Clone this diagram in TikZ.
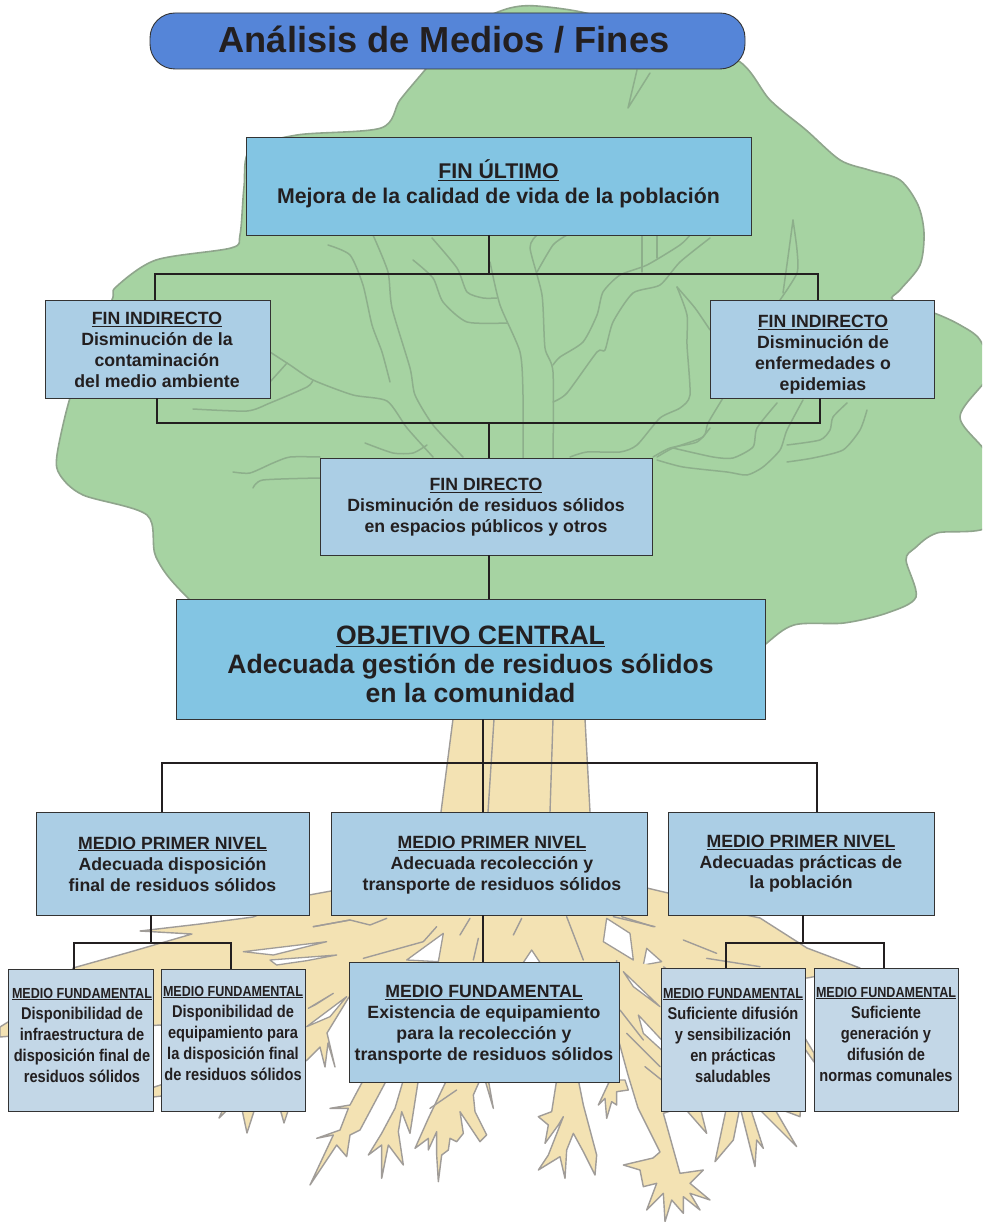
\documentclass[tikz,border=0pt]{standalone}
\usepackage{fontspec}
\setmainfont{Liberation Sans}
\newfontfamily\ccf[FakeStretch=0.86]{Liberation Sans}
\usetikzlibrary{calc}
\definecolor{ink}{HTML}{231F20}
\definecolor{edgec}{HTML}{333333}
\definecolor{titlec}{HTML}{5585D8}
\definecolor{topc}{HTML}{83C5E3}
\definecolor{midc}{HTML}{ABCEE5}
\definecolor{lowc}{HTML}{C3D7E7}
\definecolor{leaf}{HTML}{A6D3A2}
\definecolor{leafl}{HTML}{8FA58C}
\definecolor{vein}{HTML}{8DAF8B}
\definecolor{wood}{HTML}{F3E2B3}
\definecolor{woodl}{HTML}{A09C98}
\tikzset{
 boxbase/.style={rectangle,draw=edgec,line width=0.9pt,inner sep=0pt,outer sep=0pt},
 boxtop/.style={boxbase,fill=topc},
 boxmid/.style={boxbase,fill=midc},
 boxlow/.style={boxbase,fill=lowc},
 txt/.style={inner sep=0pt,outer sep=0pt,align=center,text=ink},
 big/.style={font=\fontsize{17.7}{21}\selectfont\bfseries},
 small/.style={font=\ccf\fontsize{17}{21}\selectfont\bfseries},
 stem/.style={draw=ink,line width=1.9pt},
 bus/.style={draw=ink,line width=2.6pt,line join=miter},
 veinl/.style={draw=vein,line width=1.5pt,line cap=round,line join=round},
 rootp/.style={fill=wood,draw=woodl,line width=1.4pt,line join=round},
 rootv/.style={draw=woodl,line width=1.4pt,line cap=round,line join=round},
 hole/.style={fill=white,draw=woodl,line width=1.3pt,line join=round},
}
\newcommand{\hd}[1]{\underline{#1}}
\newcommand{\hds}[1]{{\fontsize{14.6}{21}\selectfont\underline{#1}}}
\newcommand{\veinp}[1]{\draw[veinl] plot[smooth,tension=0.4] coordinates {#1};}
\begin{document}
\begin{tikzpicture}[x=1pt,y=-1pt]
\useasboundingbox (0,0) rectangle (982,1222);
\fill[white] (0,0) rectangle (982,1222);
\begin{scope}
\clip (0,0) rectangle (982,1222);
% crown
\draw[fill=leaf,draw=leafl,line width=1.6pt] plot[smooth cycle,tension=0.5] coordinates {
(537,6)(590,14)(660,38)(737,60)(770,100)(806,130)(840,160)(869,170)(900,180)(918,205)(924,233)(920,265)(900,290)(893,300)
(934,313)(960,325)(980,340)(990,373)(960,417)(990,460)(990,525)(937,533)(915,548)(906,560)(916,597)(887,613)(844,623)(794,625)(762,647)
(700,700)(300,700)(187,597)(156,557)(147,515)(83,495)(60,475)(57,455)(70,398)(90,350)(112,300)(116,287)(156,260)(231,248)(240,235)(244,187)(250,150)(297,135)(381,128)(400,100)(425,70)(450,40)(480,20)(510,8)};
\draw[veinl] (650,73) -- (628,108) -- (637,70);
\veinp{(328,245)(350,255)(363,285)(372,325)(382,352)(390,382)}
\veinp{(373,235)(388,272)(392,308)(410,368)(415,395)(433,425)(463,457)}
\veinp{(270,352)(290,365)(313,380)(353,395)(387,401)(407,428)(433,457)}
\veinp{(270,382)(287,363)}
\veinp{(193,409)(247,411)(270,403)(307,387)(313,380)}
\veinp{(432,238)(457,268)(467,292)(483,298)(497,298)}
\veinp{(413,260)(433,278)(443,302)(467,322)(507,323)}
\veinp{(490,262)(500,305)(520,352)(523,395)(523,458)}
\veinp{(537,235)(530,248)(542,295)(545,348)(553,372)(553,458)}
\veinp{(537,272)(553,245)(567,235)}
\veinp{(553,365)(560,357)(583,342)(597,315)(603,292)(620,275)(647,265)(680,245)(690,235)}
\veinp{(553,402)(567,393)(597,352)(605,350)(613,322)(633,293)(660,285)(680,262)(710,238)}
\veinp{(642,235)(642,272)}
\veinp{(657,235)(657,258)}
\veinp{(677,287)(687,315)(687,345)(690,395)(680,408)(660,418)(637,445)(620,452)(587,452)(570,457)}
\veinp{(677,287)(695,308)(710,330)}
\veinp{(365,443)(393,453)(413,453)(427,445)}
\veinp{(710,428)(697,442)(670,448)(653,457)}
\veinp{(793,220)(797,250)(797,273)(780,300)}
\veinp{(793,220)(788,257)(783,293)}
\veinp{(723,398)(708,423)(703,437)(673,448)(657,457)}
\veinp{(803,400)(787,430)(780,450)(763,467)(747,475)(727,472)(683,467)(657,460)}
\veinp{(777,403)(757,428)(753,447)(733,458)(713,457)(673,448)}
\veinp{(847,403)(833,417)(830,430)(820,440)(787,445)}
\veinp{(867,410)(860,430)(843,450)(813,458)(787,462)}
\veinp{(233,472)(250,473)(273,463)(290,457)(320,457)}
\veinp{(253,488)(263,480)(320,478)}
% trunk
\draw[fill=wood,draw=none] (453,715) -- (441,815) -- (590,815) -- (585,715) -- cycle;
\draw[rootv] (453,719) -- (441,812);
\draw[rootv] (585,719) -- (590,812);
\draw[rootv] (494,719) -- (488,812);
\draw[rootv] (553,719) -- (550,812);
% central root mass
\draw[rootp] (400,860) -- (331,891) -- (309,895) -- (253,917) -- (200,924) -- (140,931) -- (192,934) -- (130,952) -- (73,968) -- (60,1000) -- (8,1022) -- (0,1027) -- (0,1037) -- (12,1036) -- (160,1025) -- (300,1065) -- (307,1060) -- (320,1047) -- (325,1067) -- (328,1043) -- (335,1067) -- (327,1033) -- (349,997) -- (360,1000) -- (700,1000) -- (720,978) -- (807,978) -- (860,968) -- (807,948) -- (760,918) -- (700,905) -- (668,893) -- (647,888) -- (600,860) -- cycle;
% stripes seen in the box gaps
\draw[rootp] (300,1040) -- (145,1090) -- (145,1098) -- (170,1095) -- (300,1060) -- cycle;
\draw[rootp] (800,1030) -- (814,1053) -- (814,1062) -- (800,1042) -- cycle;
% spikes under box 2
\draw[rootp] (225,1105) -- (219,1118) -- (232,1105);
\draw[rootp] (241,1105) -- (247,1133) -- (256,1105);
\draw[rootp] (279,1105) -- (284,1123) -- (290,1105);
% wedges in upper-left root
\begin{scope}[shift={(0,890)},scale=1/3]
\draw[hole] (810,210) -- (1010,195) -- (920,212) -- (830,225) -- cycle;
\draw[hole] (730,185) -- (980,155) -- (880,180) -- (820,195) -- cycle;
\draw[hole] (925,355) -- (1000,310) -- (945,345) -- cycle;
\draw[hole] (920,410) -- (1040,320) -- (990,380) -- cycle;
\draw[rootv] (940,110) -- (1050,90);
\end{scope}
% veins and holes in central mass
\begin{scope}[shift={(300,890)},scale=1/3]
\draw[hole] (320,210) -- (430,130) -- (415,215) -- cycle;
\draw[hole] (665,225) -- (695,180) -- (725,225) -- cycle;
\draw[hole] (920,85) -- (990,130) -- (1000,210) -- (910,155) -- cycle;
\draw[hole] (1040,175) -- (1085,215) -- (1030,225) -- cycle;
\draw[rootv] (40,110) -- (150,90) -- (210,105) -- (260,85);
\draw[rootv] (190,205) -- (370,155) -- (410,110);
\draw[rootv] (480,135) -- (510,85);
\draw[rootv] (520,210) -- (535,145);
\draw[rootv] (640,135) -- (665,85);
\draw[rootv] (800,80) -- (850,210);
\draw[rootv] (965,80) -- (1060,110);
\end{scope}
% right side
\begin{scope}[shift={(600,900)},scale=1/3]
\draw[rootp] (50,180) -- (50,400) -- (84,525) -- (114,624) -- (159,714) -- (180,756) -- (159,774) -- (70,795) -- (120,810) -- (130,860) -- (170,850) -- (140,930) -- (190,880) -- (195,965) -- (215,900) -- (250,940) -- (250,890) -- (300,930) -- (270,880) -- (330,900) -- (270,850) -- (310,810) -- (240,820) -- (190,640) -- (250,620) -- (320,700) -- (300,620) -- (380,620) -- (345,785) -- (400,720) -- (420,620) -- (465,800) -- (470,720) -- (490,745) -- (450,620) -- (470,620) -- (590,740) -- (520,620) -- (600,650) -- (610,500) -- (190,200);
\draw[hole] (70,215) -- (180,320) -- (100,260) -- cycle;
\draw[hole] (115,345) -- (185,420) -- (185,450) -- (130,400) -- cycle;
\draw[rootv] (60,330) -- (130,420);
\draw[rootv] (80,400) -- (180,500);
\draw[rootv] (135,500) -- (185,540);
\draw[rootv] (250,120) -- (350,160);
\draw[rootv] (320,175) -- (480,200);
\draw[rootv] (40,50) -- (165,80);
\end{scope}
% roots beneath the central box
\begin{scope}[shift={(300,1075)},scale=1/3]
\draw[rootp] (190,15) -- (150,90) -- (90,100) -- (145,100) -- (120,165) -- (50,190) -- (100,180) -- (30,330) -- (110,210) -- (140,245) -- (150,180) -- (180,165) -- (260,15) -- cycle;
\draw[rootp] (310,15) -- (285,100) -- (245,175) -- (205,240) -- (245,210) -- (245,310) -- (265,210) -- (310,270) -- (295,170) -- (305,110) -- (330,175) -- (355,15) -- cycle;
\draw[rootp] (440,15) -- (385,130) -- (345,220) -- (385,190) -- (385,225) -- (410,170) -- (410,240) -- (415,320) -- (425,240) -- (445,225) -- (450,190) -- (470,200) -- (490,175) -- (480,110) -- (540,200) -- (560,180) -- (525,110) -- (520,60) -- (540,15) -- cycle;
\draw[rootv] (390,100) -- (470,45);
\draw[rootp] (555,15) -- (580,100) -- (565,15) -- cycle;
\draw[rootp] (770,15) -- (755,110) -- (715,125) -- (745,150) -- (735,205) -- (775,150) -- (790,125) -- (745,240) -- (715,285) -- (780,245) -- (795,310) -- (800,225) -- (820,175) -- (850,230) -- (885,300) -- (890,240) -- (850,90) -- (835,15) -- cycle;
\draw[rootp] (930,15) -- (895,90) -- (915,70) -- (920,130) -- (935,80) -- (950,90) -- (950,50) -- (985,45) -- (975,15) -- cycle;
\end{scope}
\end{scope}
% title
\node[rectangle,rounded corners=25pt,fill=titlec,draw=edgec,line width=0.9pt,minimum width=595pt,minimum height=56pt,inner sep=0pt,outer sep=0pt] (titlebox) at (447.5,41) {};
\node[txt,font=\fontsize{36.2}{40}\selectfont\bfseries] (titletxt) at (444,40) {Análisis de Medios / Fines};
% boxes
\node[boxtop,minimum width=505pt,minimum height=98pt] (fu) at (498.5,186) {};
\node[boxmid,minimum width=225pt,minimum height=98pt] (fi1) at (157.5,349) {};
\node[boxmid,minimum width=224pt,minimum height=98pt] (fi2) at (822,349) {};
\node[boxmid,minimum width=332pt,minimum height=97pt] (fd) at (486,506.5) {};
\node[boxtop,minimum width=589pt,minimum height=120pt] (oc) at (470.5,659) {};
\node[boxmid,minimum width=273pt,minimum height=103pt] (m1) at (172.5,863.5) {};
\node[boxmid,minimum width=316pt,minimum height=103pt] (m2) at (489,863.5) {};
\node[boxmid,minimum width=266pt,minimum height=103pt] (m3) at (801,863.5) {};
\node[boxlow,minimum width=145pt,minimum height=142pt] (f1) at (80.5,1040) {};
\node[boxlow,minimum width=144pt,minimum height=142pt] (f2) at (233,1040) {};
\node[boxmid,minimum width=270pt,minimum height=120pt] (f3) at (484,1022) {};
\node[boxlow,minimum width=144pt,minimum height=143pt] (f4) at (733,1039.5) {};
\node[boxlow,minimum width=144pt,minimum height=143pt] (f5) at (886,1039.5) {};
% connector junctions
\coordinate (j1) at (489,274);
\coordinate (j1l) at (155,274);
\coordinate (j1r) at (818,274);
\coordinate (j2) at (489,423);
\coordinate (j2l) at (157,423);
\coordinate (j2r) at (820,423);
\coordinate (j3) at (483,763);
\coordinate (j3l) at (162,763);
\coordinate (j3r) at (817,763);
\coordinate (j4) at (151,943);
\coordinate (j4l) at (74,943);
\coordinate (j4r) at (231,943);
\coordinate (j5) at (803,943);
\coordinate (j5l) at (726,943);
\coordinate (j5r) at (884,943);
\coordinate (j6) at (483,915);
\draw[stem] (j1 |- fu.south) -- (j1);
\draw[bus] (j1l |- fi1.north) -- (j1l) -- (j1r) -- (j1r |- fi2.north);
\draw[bus] (j2l |- fi1.south) -- (j2l) -- (j2r) -- (j2r |- fi2.south);
\draw[stem] (j2) -- (j2 |- fd.north);
\draw[stem] (j2 |- fd.south) -- (j2 |- oc.north);
\draw[stem] (j3 |- oc.south) -- (j3 |- m2.north);
\draw[bus] (j3l |- m1.north) -- (j3l) -- (j3r) -- (j3r |- m3.north);
\draw[stem] (j4 |- m1.south) -- (j4);
\draw[bus] (j4l |- f1.north) -- (j4l) -- (j4r) -- (j4r |- f2.north);
\draw[stem] (j6 |- m2.south) -- (j6 |- f3.north);
\draw[stem] (j5 |- m3.south) -- (j5);
\draw[bus] (j5l |- f4.north) -- (j5l) -- (j5r) -- (j5r |- f5.north);
% texts
\node[txt,font=\fontsize{21.3}{25}\selectfont\bfseries] (fut) at (498.5,184) {\hd{FIN ÚLTIMO}\\Mejora de la calidad de vida de la población};
\node[txt,big] (fi1t) at (157,350) {\hd{FIN INDIRECTO}\\Disminución de la\\contaminación\\del medio ambiente};
\node[txt,big] (fi2t) at (823,355) {\hd{FIN INDIRECTO}\\Disminución de\\enfermedades o\\epidemias};
\node[txt,big] (fdt) at (486,507) {\hd{FIN DIRECTO}\\Disminución de residuos sólidos\\en espacios públicos y otros};
\node[txt,font=\fontsize{26.6}{29}\selectfont\bfseries] (oct) at (470.5,664) {\hd{OBJETIVO CENTRAL}\\Adecuada gestión de residuos sólidos\\en la comunidad};
\node[txt,big] (m1t) at (172.5,864) {\hd{MEDIO PRIMER NIVEL}\\Adecuada disposición\\final de residuos sólidos};
\node[txt,big] (m2t) at (492,865) {\hd{MEDIO PRIMER NIVEL}\\Adecuada recolección y\\transporte de residuos sólidos};
\node[txt,font=\fontsize{17.7}{20.5}\selectfont\bfseries] (m3t) at (801,864) {\hd{MEDIO PRIMER NIVEL}\\Adecuadas prácticas de\\la población};
\node[txt,big] (f3t) at (484,1025) {\hd{MEDIO FUNDAMENTAL}\\Existencia de equipamiento\\para la recolección y\\transporte de residuos sólidos};
\node[txt,small] (f1t) at (82,1035) {\hds{MEDIO FUNDAMENTAL}\\Disponibilidad de\\infraestructura de\\disposición final de\\residuos sólidos};
\node[txt,small] (f2t) at (233,1033) {\hds{MEDIO FUNDAMENTAL}\\Disponibilidad de\\equipamiento para\\la disposición final\\de residuos sólidos};
\node[txt,small] (f4t) at (733,1035) {\hds{MEDIO FUNDAMENTAL}\\Suficiente difusión\\y sensibilización\\en prácticas\\saludables};
\node[txt,small] (f5t) at (886,1034) {\hds{MEDIO FUNDAMENTAL}\\Suficiente\\generación y\\difusión de\\normas comunales};
\end{tikzpicture}
\end{document}
